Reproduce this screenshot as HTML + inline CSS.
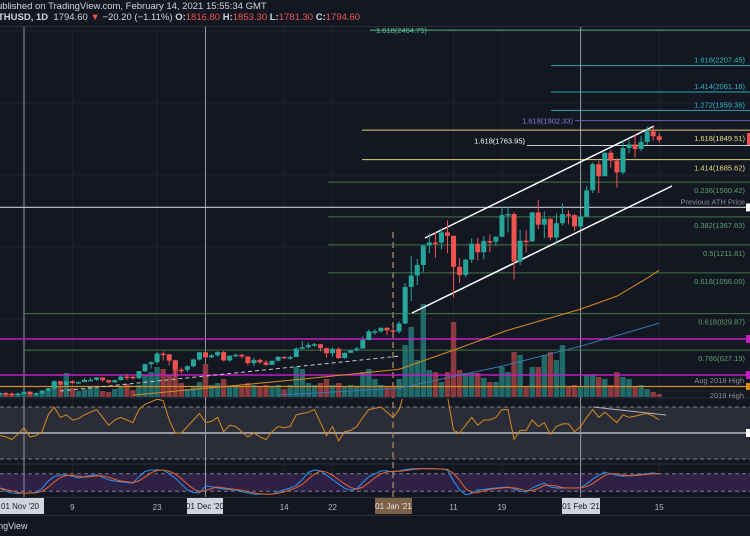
<!DOCTYPE html>
<html><head><meta charset="utf-8">
<style>
html,body{margin:0;padding:0;background:#131722;}
body{width:750px;height:536px;overflow:hidden;position:relative;font-family:"Liberation Sans",sans-serif;}
svg{position:absolute;left:0;top:0;}
.hdr{position:absolute;left:0;font-size:9.5px;color:#d1d4dc;white-space:nowrap;}
.r{color:#ef5350;}
</style></head>
<body>
<div class="hdr" style="top:1px;left:-3px">ublished on TradingView.com, February 14, 2021 15:55:34 GMT</div>
<div class="hdr" style="top:12px;left:-2px"><b style="font-weight:bold">THUSD, 1D</b>&nbsp; 1794.60 <span class="r">▼</span> −20.20 (−1.11%) <b>O:</b><span class="r">1816.80</span> <b>H:</b><span class="r">1853.30</span> <b>L:</b><span class="r">1781.30</span> <b>C:</b><span class="r">1794.60</span></div>
<svg id="chart" width="750" height="536"></svg>
<script>
const closes=[389,386,383,386,
396,383,387,402,415,454,435,454,444,450,462,462,475,460,448,460,480,479,471,510,549,560,608,604,569,518,517,538,575,615,
587,598,616,570,596,601,592,555,573,559,545,568,590,586,589,636,643,655,660,638,610,634,583,612,626,636,683,731,732,751,737,
730,775,978,1042,1100,1208,1225,1224,1281,1262,1090,1044,1130,1218,1171,1233,1230,1257,1377,1383,1120,1235,1231,1392,1324,1357,1253,1332,1382,1377,1314,
1369,1515,1660,1593,1724,1680,1614,1750,1770,1744,1784,1843,1815,1795];
const highs=[396,394,392,392,
400,398,392,406,418,460,457,456,459,453,470,475,477,476,460,463,486,495,483,512,552,565,617,620,605,573,530,543,580,617,
620,606,622,622,598,608,608,593,586,580,572,570,595,591,598,642,677,668,667,662,641,641,642,614,629,647,703,741,743,754,754,
749,787,1000,1152,1134,1213,1278,1284,1299,1348,1263,1138,1134,1247,1250,1260,1270,1259,1425,1425,1393,1295,1294,1395,1461,1398,1360,1386,1442,1403,1384,
1375,1540,1670,1680,1725,1740,1694,1796,1796,1826,1817,1870,1871,1835];
const lows=[378,376,373,375,
380,375,376,382,397,404,428,430,436,440,448,456,456,451,443,445,458,460,464,465,505,525,548,570,542,480,497,505,532,570,
578,583,590,565,562,588,581,542,537,552,540,545,566,577,572,589,630,635,644,620,585,590,578,580,612,620,634,681,713,724,710,
716,720,771,900,989,1062,1166,1140,1185,1166,920,1000,1033,1112,1126,1132,1170,1207,1254,1282,1020,1100,1170,1228,1300,1250,1237,1226,1320,1325,1290,
1305,1365,1500,1499,1594,1640,1530,1602,1720,1697,1733,1765,1790,1780];
const volumes=[4,4,3,3,
4,4,4,6,8,14,10,24,9,6,8,10,9,6,5,8,10,13,7,12,22,25,30,28,22,37,14,8,10,15,
33,12,14,18,10,12,10,14,12,10,12,10,12,8,12,30,28,14,12,14,18,12,14,10,12,10,25,28,18,12,10,
10,18,52,70,37,93,27,25,15,25,75,27,24,24,24,19,15,15,30,25,45,42,10,30,30,42,45,37,52,10,12,
10,22,22,20,18,12,25,20,18,10,12,8,5,3];
const rsi=[48,47,45,49,
54,47,48,51,64,70,62,64,60,61,64,66,68,62,56,60,62,60,58,68,72,74,76,75,60,50,50,55,60,65,
58,59,62,51,56,55,51,47,50,47,45,51,55,54,55,64,65,66,68,58,48,55,44,51,52,55,62,68,69,70,66,
62,68,83,85,87,88,89,90,88,78,52,50,56,62,56,60,60,62,68,68,45,52,52,60,55,58,49,55,57,57,51,
55,62,68,62,66,62,58,64,62,63,64,65,63,60];
const stochK=[31,20,14,12,
14,14,16,30,55,70,76,76,72,65,70,74,76,68,59,55,52,50,48,70,88,93,93,93,80,65,45,24,16,14,
38,36,31,28,26,24,18,14,10,10,10,10,18,25,31,40,60,85,93,90,75,60,45,30,24,28,50,70,80,90,90,
86,90,95,97,98,98,97,97,96,93,55,25,8,12,24,26,29,31,33,34,28,20,17,31,40,48,35,31,31,31,31,
32,45,62,75,86,80,74,72,74,76,78,80,83,79];
const maSlowDays=[18,46,62,71,80,92,98,103,105];
const maSlowVals=[377,466,521,627,738,855,927,1027,1071];
const ma200Days=[42,62,79,92,105];
const ma200Vals=[377,416,538,649,777];
const tickLabels=["9","23","14","22","11","19","15"];
const tickDays=[8,22,43,51,71,79,105];
const fibPrices=[2404.75,2207.45,2061.18,1959.36,1902.33,1849.51,1763.95,1685.62,1560.42,1420,1367.63,1211.81,1056.00,829.87,627.19];
const fibLabels=["1.618(2404.75)","1.618(2207.45)","1.414(2061.18)","1.272(1959.36)","1.618(1902.33)","1.618(1849.51)","1.618(1763.95)","1.414(1685.62)","0.236(1560.42)","Previous ATH Price","0.382(1367.63)","0.5(1211.81)","0.618(1056.00)","0.618(829.87)","0.786(627.19)"];

const NS="http://www.w3.org/2000/svg";
const svg=document.getElementById('chart');
const X=d=>24+d*6.05;
const Y=p=>463-0.18*p;
const VB=397, VY=v=>VB-v;
const RY=r=>433-(r-50)*1.3;
const SY=k=>497-k*0.29;
function el(tag,attrs,parent){const e=document.createElementNS(NS,tag);for(const k in attrs)e.setAttribute(k,attrs[k]);(parent||svg).appendChild(e);return e;}
function txt(s,attrs,parent){const t=el('text',attrs,parent);t.textContent=s;return t;}

const defs=el('defs',{});
const cp=el('clipPath',{id:'main'},defs);el('rect',{x:0,y:27,width:750,height:370},cp);
const cr=el('clipPath',{id:'rsic'},defs);el('rect',{x:0,y:399,width:750,height:63},cr);

const grid=el('g',{});


tickDays.forEach(d=>el('line',{x1:X(d),x2:X(d),y1:27,y2:497,stroke:'#1e222d','stroke-width':1},grid));
[100,400,800,1200,1600,2000,2400].forEach(p=>el('line',{x1:0,x2:750,y1:Y(p),y2:Y(p),stroke:'#1c202b'},grid));
el('line',{x1:0,x2:750,y1:26.5,y2:26.5,stroke:'#2a2e39'});

el('line',{x1:0,x2:750,y1:398,y2:398,stroke:'#2a2e39'});
const rsiBand=el('rect',{x:0,y:RY(70),width:750,height:RY(30)-RY(70),fill:'#2a2d37'});


el('line',{x1:0,x2:750,y1:RY(70),y2:RY(70),stroke:'#787b86','stroke-dasharray':'4,3'});
el('line',{x1:0,x2:750,y1:RY(30),y2:RY(30),stroke:'#787b86','stroke-dasharray':'4,3'});
el('line',{x1:0,x2:750,y1:RY(50),y2:RY(50),stroke:'#d8d8d8','stroke-width':1.2});
el('line',{x1:0,x2:750,y1:464,y2:464,stroke:'#2a2e39'});
const stBand=el('rect',{x:0,y:SY(80),width:750,height:SY(20)-SY(80),fill:'#2f2145'});


el('line',{x1:0,x2:750,y1:SY(80),y2:SY(80),stroke:'#787b86','stroke-dasharray':'4,3'});
el('line',{x1:0,x2:750,y1:SY(20),y2:SY(20),stroke:'#787b86','stroke-dasharray':'4,3'});

[0,30,92].forEach(d=>el('line',{x1:X(d),x2:X(d),y1:27,y2:497,stroke:'#9598a1','stroke-width':1}));
el('line',{x1:X(61),x2:X(61),y1:232,y2:497,stroke:'#9c7a5c','stroke-width':1.5,'stroke-dasharray':'6,4'});

const main=el('g',{'clip-path':'url(#main)'});
const n=closes.length;
for(let i=0;i<n;i++){
  const d=i-4, up=i==0||closes[i]>=closes[i-1];
  const b=el('rect',{x:X(d)-2.7,y:VY(volumes[i]),width:5.4,height:volumes[i],fill:up?'#1f6b69':'#8b3a3e'},main);
  
  
}
function hline(p,x1,color,w,dash){return el('line',{x1:x1,x2:750,y1:Y(p),y2:Y(p),stroke:color,'stroke-width':w||1,'stroke-dasharray':dash||''},main);}
const fibStart=[370,551,551,551,575,362,527,362,328,0,328,328,328,24,24];
const fibColor=['#4caf7a','#26a5b5','#26a5b5','#26a5b5','#6e58b8','#d9cf78','#cfcfcf','#d9cf78','#3f7a46','#b2b5be','#3f7a46','#3f7a46','#3f7a46','#3f7a46','#3f7a46'];
const fibText=['#5fbf8a','#2fb6c4','#2fb6c4','#2fb6c4','#8e7ad8','#e8df85','#ffffff','#e8df85','#5aa368','#8a8d96','#5aa368','#5aa368','#5aa368','#5aa368','#5aa368'];
fibPrices.forEach((p,i)=>{
  const l=hline(p,fibStart[i],fibColor[i],i==9?1.3:1);
  
  
  let tx,ty,anchor;
  if(i==0){tx=376;ty=Y(p)+3;anchor='start';}
  else if(i==4){tx=573;ty=Y(p)+3;anchor='end';}
  else if(i==6){tx=525;ty=Y(p)-2;anchor='end';}
  else if(i>=1&&i<=3||i==9){tx=745;ty=Y(p)-3;anchor='end';}
  else {tx=745;ty=Y(p)+11;anchor='end';}
  const t=txt(fibLabels[i],{x:tx,y:ty,'text-anchor':anchor,fill:fibText[i],'font-size':7.5},svg);
  
  
});
const m1=el('line',{x1:0,x2:750,y1:339,y2:339,stroke:'#c21cc2','stroke-width':1.5},main);


const m2=el('line',{x1:0,x2:750,y1:375,y2:375,stroke:'#c21cc2','stroke-width':1.5},main);


const o1=el('line',{x1:0,x2:750,y1:386.5,y2:386.5,stroke:'#d88a1a','stroke-width':1.2},main);


const t1=txt('Aug 2018 High',{x:744,y:383,'text-anchor':'end',fill:'#8a8d96','font-size':7.5});


const t2=txt('2019 High',{x:744,y:398,'text-anchor':'end',fill:'#8a8d96','font-size':7.5});



function poly(days,vals,color,name){
  const pts=days.map((d,i)=>X(d)+','+Y(vals[i])).join(' ');
  const p=el('polyline',{points:pts,fill:'none',stroke:color,'stroke-width':1},main);
  
  
}
poly(maSlowDays,maSlowVals,'#d68a1e','orange-moving-average');
poly(ma200Days,ma200Vals,'#3a78b0','blue-moving-average');

const ch1=el('line',{x1:425,y1:238,x2:654,y2:126,stroke:'#fff','stroke-width':1.5},main);


const ch2=el('line',{x1:412,y1:313,x2:672,y2:186,stroke:'#fff','stroke-width':1.5},main);


const dl=el('line',{x1:60,y1:391,x2:400,y2:356,stroke:'#c8c8c8','stroke-width':1,'stroke-dasharray':'4,3'},main);



for(let i=0;i<n;i++){
  const d=i-4,o=i==0?closes[0]:closes[i-1],c=closes[i],up=c>=o,col=up?'#26a69a':'#ef5350';
  const g=el('g',{},main);
  
  
  el('line',{x1:X(d),x2:X(d),y1:Y(highs[i]),y2:Y(lows[i]),stroke:col,'stroke-width':1},g);
  const top=Y(Math.max(o,c)),h=Math.max(1.5,Math.abs(Y(o)-Y(c)));
  el('rect',{x:X(d)-2.5,y:top,width:5,height:h,fill:col},g);
}

const rg=el('g',{'clip-path':'url(#rsic)'});
const rp=el('polyline',{points:rsi.map((r,i)=>X(i-4)+','+RY(r)).join(' '),fill:'none',stroke:'#d68a1e','stroke-width':1},rg);


const rd=el('line',{x1:593,y1:407,x2:666,y2:415,stroke:'#b2b5be','stroke-width':1});



const stochD=stochK.map((k,i)=>{const a=stochK.slice(Math.max(0,i-2),i+1);return a.reduce((s,v)=>s+v,0)/a.length;});
const kp=el('polyline',{points:stochK.map((k,i)=>X(i-4)+','+SY(k)).join(' '),fill:'none',stroke:'#2196f3','stroke-width':1});


const dp=el('polyline',{points:stochD.map((k,i)=>X(i-4)+','+SY(k)).join(' '),fill:'none',stroke:'#e8622c','stroke-width':1});



el('line',{x1:0,x2:750,y1:497.5,y2:497.5,stroke:'#2a2e39'});
tickDays.forEach((d,i)=>{
  const t=txt(tickLabels[i],{x:X(d),y:510,'text-anchor':'middle',fill:'#b2b5be','font-size':8});
  
  
});
function dateBox(x,w,label,bg,fg,name){
  const r=el('rect',{x:x,y:498,width:w,height:16,fill:bg});
  
  
  txt(label,{x:x+w/2,y:509,'text-anchor':'middle',fill:fg,'font-size':8});
}
dateBox(-4,48,"01 Nov '20",'#d1d4dc','#131722','nov-date-box');
dateBox(187,36,"01 Dec '20",'#d1d4dc','#131722','dec-date-box');
dateBox(375,37,"01 Jan '21",'#7d6148','#e6e6e6','jan-date-box');
dateBox(562,38,"01 Feb '21",'#d1d4dc','#131722','feb-date-box');
el('line',{x1:0,x2:750,y1:515.5,y2:515.5,stroke:'#2a2e39'});
const ft=txt('TradingView',{x:-22,y:529,fill:'#d1d4dc','font-size':9});


const rm=el('rect',{x:747,y:Y(1800)-6,width:3,height:12,fill:'#ef5350'});


el('rect',{x:746,y:Y(1420)-4,width:4,height:8,fill:'#ffffff'});
el('rect',{x:746,y:335,width:4,height:8,fill:'#c21cc2'});
el('rect',{x:746,y:371,width:4,height:8,fill:'#c21cc2'});
el('rect',{x:746,y:383,width:4,height:7,fill:'#d88a1a'});
el('rect',{x:746,y:429,width:4,height:8,fill:'#ffffff'});
</script>
</body></html>
